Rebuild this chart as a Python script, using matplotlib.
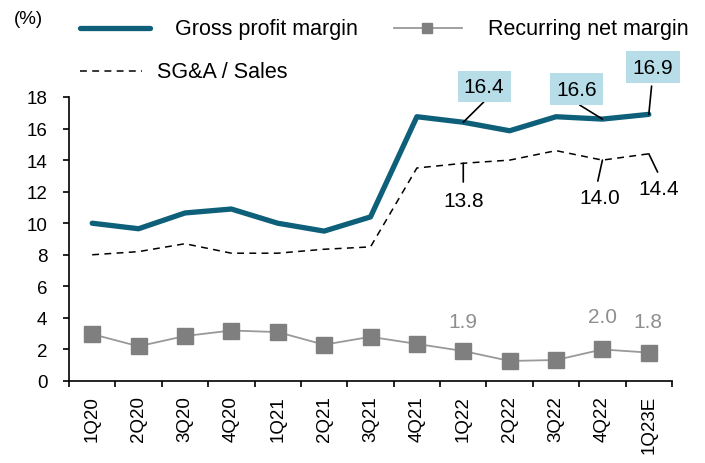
import matplotlib
matplotlib.use("Agg")
import matplotlib.pyplot as plt
from matplotlib.lines import Line2D

plt.rcParams['font.family'] = ['Liberation Sans', 'DejaVu Sans']

quarters = ["1Q20", "2Q20", "3Q20", "4Q20", "1Q21", "2Q21", "3Q21", "4Q21",
            "1Q22", "2Q22", "3Q22", "4Q22", "1Q23E"]
gross_margin = [10.0, 9.65, 10.65, 10.9, 10.0, 9.5, 10.4, 16.75, 16.4, 15.86, 16.75, 16.6, 16.9]
sga_sales = [8.0, 8.2, 8.7, 8.1, 8.1, 8.35, 8.5, 13.5, 13.8, 14.0, 14.6, 14.0, 14.4]
net_margin = [2.97, 2.2, 2.85, 3.2, 3.1, 2.3, 2.8, 2.35, 1.9, 1.27, 1.33, 2.0, 1.8]

teal = "#0e5f79"
gray = "#7f7f7f"
boxc = "#b7dde8"
W, H = 705, 464

fig = plt.figure(figsize=(W/100, H/100), dpi=100)
ax = fig.add_axes([69/W, 1-382/H, (672-69)/W, (382-98)/H])
x = list(range(len(quarters)))

ax.plot(x, gross_margin, color=teal, lw=3.8, solid_capstyle='round', solid_joinstyle='round', zorder=3)
ax.plot(x, sga_sales, color='black', lw=1.1, ls=(0, (4.5, 3.5)), zorder=2)
ax.plot(x, net_margin, color='#999999', lw=1.3, marker='s', markersize=11.5,
        markerfacecolor=gray, markeredgecolor=gray, zorder=3)

ax.set_xlim(-0.5, 12.5)
ax.set_ylim(0, 18)
ax.set_yticks(range(0, 19, 2))
ax.set_xticks([i - 0.5 for i in range(14)])
ax.set_xticklabels([])
ax.set_xticks(x, minor=True)
ax.set_xticklabels(quarters, minor=True, rotation=90, fontsize=13.5)
ax.tick_params(axis='x', which='major', direction='out', length=4, width=1.2)
ax.tick_params(axis='x', which='minor', length=0, pad=10)
ax.tick_params(axis='y', direction='out', length=4.5, width=1.2, labelsize=13.5, pad=11)
for s in ['top', 'right']:
    ax.spines[s].set_visible(False)
for s in ['left', 'bottom']:
    ax.spines[s].set_linewidth(1.2)

fs = 15
lead = dict(arrowstyle='-', color='black', lw=1.2, shrinkA=0, shrinkB=0)

# gross margin labels: (index, leader end x, leader end y, text x, text y)
gm_lbl = [(8, 8.44, 17.68, 8.45, 18.68),
          (11, 10.51, 17.49, 10.45, 18.5),
          (12, 12.06, 18.69, 12.09, 19.9)]
for i, lx, ly, tx, ty in gm_lbl:
    ax.annotate("", xy=(i, gross_margin[i]), xytext=(lx, ly), arrowprops=lead, annotation_clip=False)
    ax.text(tx, ty, f"{gross_margin[i]:.1f}", ha='center', va='center', fontsize=fs,
            bbox=dict(boxstyle='square,pad=0.3', fc=boxc, ec='none'), zorder=5)

# SG&A labels
sga_lbl = [(8, 8.0, 12.61, 8.0, 11.41),
           (11, 10.9, 12.67, 10.94, 11.6),
           (12, 12.19, 13.24, 12.22, 12.17)]
for i, lx, ly, tx, ty in sga_lbl:
    ax.annotate("", xy=(i, sga_sales[i]), xytext=(lx, ly), arrowprops=lead)
    ax.text(tx, ty, f"{sga_sales[i]:.1f}", ha='center', va='center', fontsize=fs)

# net margin labels
net_lbl = [(8, 8.0, 3.8), (11, 11.0, 4.06), (12, 11.98, 3.74)]
for i, tx, ty in net_lbl:
    ax.text(tx, ty, f"{net_margin[i]:.1f}", ha='center', va='center',
            fontsize=fs, color='#8f8f8f')

fig.text(28/W, 1-19/H, "(%)", ha='center', va='center', fontsize=13.5)

# manual legend
def fx(px):
    return px / W

def fy(py):
    return 1 - py / H

fig.add_artist(Line2D([fx(80), fx(150)], [fy(29), fy(29)], color=teal, lw=3.8,
                      solid_capstyle='round', transform=fig.transFigure))
fig.text(fx(175), fy(30), "Gross profit margin", ha='left', va='center', fontsize=15.5)
fig.add_artist(Line2D([fx(394), fx(462)], [fy(29), fy(29)], color='#999999', lw=1.3,
                      transform=fig.transFigure))
fig.add_artist(Line2D([fx(427)], [fy(29)], color=gray, marker='s', markersize=7.5, lw=0,
                      transform=fig.transFigure))
fig.text(fx(488), fy(30), "Recurring net margin", ha='left', va='center', fontsize=15.5)
fig.add_artist(Line2D([fx(80), fx(142)], [fy(72), fy(72)], color='black', lw=1.1,
                      ls=(0, (4.5, 3.5)), transform=fig.transFigure))
fig.text(fx(157), fy(73), "SG&A / Sales", ha='left', va='center', fontsize=15.5)

fig.savefig("out.png", dpi=100)
